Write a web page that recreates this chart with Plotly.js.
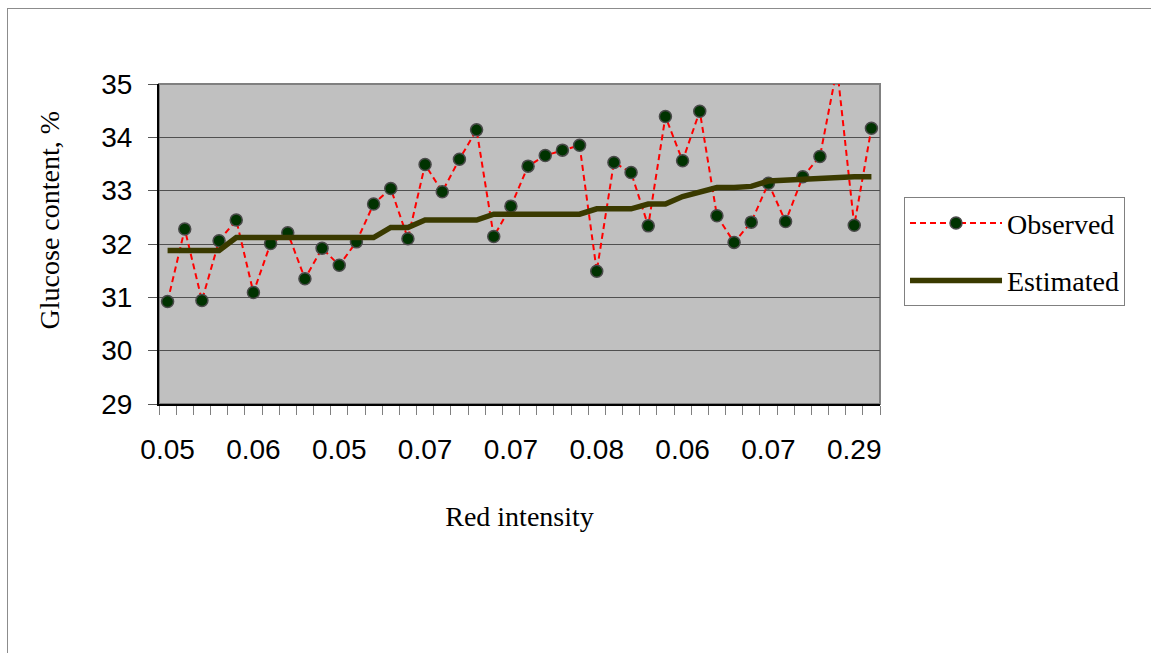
<!DOCTYPE html>
<html>
<head>
<meta charset="utf-8">
<script src="https://cdn.plot.ly/plotly-3.0.1.min.js"></script>
<style>
  html, body { margin: 0; padding: 0; background: #ffffff; }
  #wrap { position: relative; width: 1151px; height: 653px; overflow: hidden; }
  #chart { width: 1151px; height: 653px; }
  #frame { position: absolute; left: 7px; top: 8px; width: 1160px; height: 660px;
           border-left: 1px solid #8c8c8c; border-top: 1px solid #8c8c8c; pointer-events: none; }
</style>
</head>
<body>
<div id="wrap">
  <div id="chart"></div>
  <div id="frame"></div>
</div>
<script>
// Glucose content (%) observed for each sample
const observed = [30.92, 32.28, 30.94, 32.06, 32.45, 31.09, 32.01, 32.21, 31.35, 31.92,
                  31.60, 32.04, 32.75, 33.04, 32.10, 33.49, 32.98, 33.59, 34.14, 32.14,
                  32.71, 33.46, 33.66, 33.76, 33.85, 31.49, 33.53, 33.34, 32.34, 34.39,
                  33.56, 34.49, 32.53, 32.03, 32.41, 33.14, 32.42, 33.26, 33.64, 35.30,
                  32.35, 34.17];
// Glucose content (%) estimated from red intensity
const estimated = [31.88, 31.88, 31.88, 31.88, 32.12, 32.12, 32.12, 32.12, 32.12, 32.12,
                   32.12, 32.12, 32.12, 32.31, 32.31, 32.45, 32.45, 32.45, 32.45, 32.56,
                   32.56, 32.56, 32.56, 32.56, 32.56, 32.66, 32.66, 32.66, 32.75, 32.75,
                   32.89, 32.97, 33.06, 33.06, 33.08, 33.18, 33.20, 33.22, 33.23, 33.25,
                   33.26, 33.26];
// Red intensity labels shown on every 5th sample
const tickLabels = ['0.05', '0.06', '0.05', '0.07', '0.07', '0.08', '0.06', '0.07', '0.29'];
const labelStep = 5;
const seriesNames = ['Observed', 'Estimated'];
const xTitle = 'Red intensity';
const yTitle = 'Glucose content, %';

const sampleIndex = observed.map((_, i) => i);
const tickPositions = tickLabels.map((_, i) => i * labelStep);

const serif = 'Liberation Serif, Times New Roman, serif';
const sans = 'Liberation Sans, Arial, sans-serif';

const traces = [
  {
    x: sampleIndex, y: observed, name: seriesNames[0], type: 'scatter', mode: 'lines+markers',
    legendgroup: 'a',
    line: { color: '#ff0000', width: 2, dash: '6px,4px' },
    marker: { size: 12, color: '#003300', line: { color: '#4a4a4a', width: 1.5 } },
    cliponaxis: true
  },
  {
    x: sampleIndex, y: estimated, name: seriesNames[1], type: 'scatter', mode: 'lines',
    legendgroup: 'b',
    line: { color: '#3a3a00', width: 5.5 }
  }
];

const layout = {
  width: 1151, height: 653,
  margin: { l: 159, r: 271, t: 84, b: 249, pad: 0 },
  paper_bgcolor: '#ffffff',
  plot_bgcolor: '#c0c0c0',
  showlegend: true,
  legend: {
    x: 1.0333, y: 0.646, xanchor: 'left', yanchor: 'top',
    bgcolor: '#ffffff', bordercolor: '#808080', borderwidth: 1,
    font: { family: serif, size: 28, color: '#000000' },
    itemwidth: 92, entrywidth: 300, traceorder: 'grouped', tracegroupgap: 18
  },
  xaxis: {
    range: [-0.5, sampleIndex.length - 0.5],
    tickmode: 'array', tickvals: tickPositions, ticktext: tickLabels,
    ticks: '', ticklabelstandoff: 19,
    tickfont: { family: sans, size: 28, color: '#000000' },
    showgrid: false, zeroline: false,
    showline: true, linecolor: '#000000', linewidth: 2,
    minor: { tickmode: 'linear', tick0: -0.5, dtick: 1, ticks: 'outside', ticklen: 9,
             tickcolor: '#808080', tickwidth: 1, showgrid: false },
    title: { text: xTitle, font: { family: serif, size: 28, color: '#000000' }, standoff: 43 }
  },
  yaxis: {
    range: [29, 35], dtick: 1, tick0: 29,
    ticks: 'outside', ticklen: 9, tickcolor: '#555555', tickwidth: 1,
    ticklabelstandoff: 10,
    tickfont: { family: sans, size: 28, color: '#000000' },
    showgrid: true, gridcolor: '#505050', gridwidth: 1,
    zeroline: false,
    showline: true, linecolor: '#000000', linewidth: 2
  },
  shapes: [
    { type: 'rect', xref: 'paper', yref: 'paper', x0: 0, x1: 1, y0: 0, y1: 1,
      line: { color: '#808080', width: 2 }, layer: 'below' }
  ],
  annotations: [
    { text: yTitle, xref: 'paper', yref: 'paper', x: -0.152, y: 0.575,
      xanchor: 'center', yanchor: 'middle', textangle: -90, showarrow: false,
      font: { family: serif, size: 28, color: '#000000' } }
  ]
};

Plotly.newPlot('chart', traces, layout, { displayModeBar: false, staticPlot: true });
</script>
</body>
</html>
